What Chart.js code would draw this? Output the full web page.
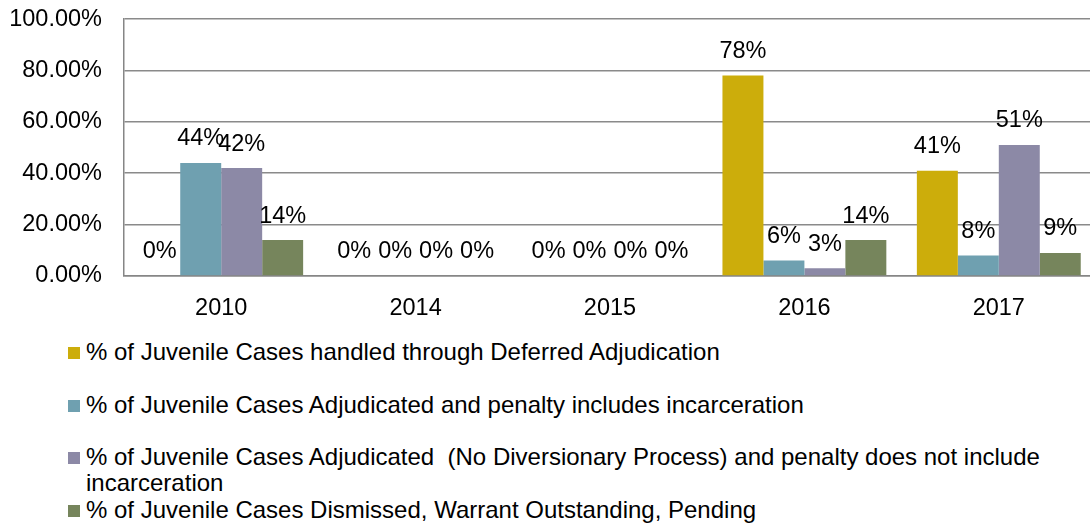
<!DOCTYPE html>
<html>
<head>
<meta charset="utf-8">
<script src="https://cdn.jsdelivr.net/npm/chart.js@4.4.1/dist/chart.umd.min.js"></script>
<style>
  html, body { margin: 0; padding: 0; background: #fff; overflow: hidden; }
  #wrap { position: relative; width: 1090px; height: 525px; overflow: hidden; }
  #chartBox { position: absolute; left: 0; top: -17px; width: 1100px; height: 347px; }
  #legend { position: absolute; left: 68px; top: 339px; width: 1020px;
            font-family: "Liberation Sans", Arial, sans-serif; font-size: 24px; color: #000; }
  .item { display: flex; align-items: flex-start; height: 52.5px; }
  .swatch { width: 12px; height: 12px; margin-top: 8px; flex: none; }
  .text { margin-left: 6px; line-height: 26px; white-space: pre-wrap; width: 995px; }
</style>
</head>
<body>
<div id="wrap">
  <div id="chartBox"><canvas id="chart" width="1100" height="347"></canvas></div>
  <div id="legend"></div>
</div>
<script>
// Case outcome shares by year (percent)
const years = ['2010', '2014', '2015', '2016', '2017'];
const seriesNames = [
  '% of Juvenile Cases handled through Deferred Adjudication',
  '% of Juvenile Cases Adjudicated and penalty includes incarceration',
  '% of Juvenile Cases Adjudicated  (No Diversionary Process) and penalty does not include incarceration',
  '% of Juvenile Cases Dismissed, Warrant Outstanding, Pending'
];
const deferred     = [0, 0, 0, 78, 41];
const incarcerated = [44, 0, 0, 6, 8];
const noDiversion  = [42, 0, 0, 3, 51];
const dismissed    = [14, 0, 0, 14, 9];
const yTicks = [0, 20, 40, 60, 80, 100];

const colors = ['#CCAD0B', '#6FA0B0', '#8C89A6', '#76855C'];
const seriesValues = [deferred, incarcerated, noDiversion, dismissed];

const FONT = '"Liberation Sans", Arial, sans-serif';

// Percentage labels above each bar
const valueLabels = {
  id: 'valueLabels',
  afterDatasetsDraw(chart) {
    const ctx = chart.ctx;
    ctx.save();
    ctx.font = '23.5px ' + FONT;
    ctx.fillStyle = '#000';
    ctx.textAlign = 'center';
    ctx.textBaseline = 'middle';
    chart.data.datasets.forEach((ds, i) => {
      chart.getDatasetMeta(i).data.forEach((bar, j) => {
        ctx.fillText(ds.data[j] + '%', bar.x, bar.y - 24);
      });
    });
    ctx.restore();
  }
};

const chart = new Chart(document.getElementById('chart'), {
  type: 'bar',
  data: {
    labels: years,
    datasets: seriesNames.map((name, i) => ({
      label: name,
      data: seriesValues[i],
      backgroundColor: colors[i],
      borderWidth: 0,
      categoryPercentage: 0.843,
      barPercentage: 1.0
    }))
  },
  options: {
    responsive: false,
    animation: false,
    layout: { padding: { top: 1, right: 4, left: 0, bottom: 0 } },
    plugins: { legend: { display: false }, tooltip: { enabled: false } },
    scales: {
      x: {
        grid: { display: false, drawTicks: false },
        border: { display: true, color: '#868686', width: 1.5 },
        ticks: { color: '#000', font: { family: FONT, size: 23.5 }, padding: 18 },
        afterFit(s) { s.height = 54; }
      },
      y: {
        min: 0, max: 100,
        afterBuildTicks(s) { s.ticks = yTicks.map(v => ({ value: v })); },
        grid: { color: '#8a8a8a', lineWidth: 1.5, drawTicks: false },
        border: { display: true, color: '#868686', width: 1.5 },
        ticks: {
          color: '#000', font: { family: FONT, size: 23.5 }, padding: 22,
          callback: v => v.toFixed(2) + '%'
        },
        afterFit(s) { s.width = 124; }
      }
    }
  },
  plugins: [valueLabels]
});

// Legend listing built from the datasets
const legend = document.getElementById('legend');
chart.data.datasets.forEach(ds => {
  const item = document.createElement('div');
  item.className = 'item';
  const sw = document.createElement('div');
  sw.className = 'swatch';
  sw.style.background = ds.backgroundColor;
  const tx = document.createElement('div');
  tx.className = 'text';
  tx.textContent = ds.label;
  item.appendChild(sw);
  item.appendChild(tx);
  legend.appendChild(item);
});
</script>
</body>
</html>
